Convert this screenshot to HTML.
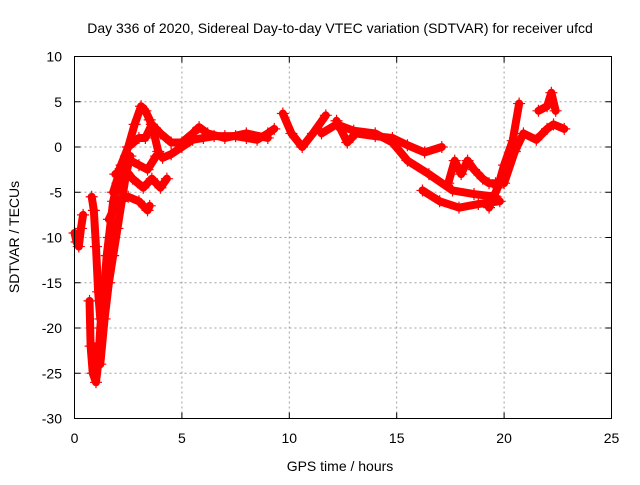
<!DOCTYPE html>
<html><head><meta charset="utf-8"><style>
body{margin:0;background:#fff}
svg text{font-family:"Liberation Sans",sans-serif;font-size:14px;fill:#000}
</style></head><body>
<svg id="c" width="640" height="480">
<text x="340" y="33" text-anchor="middle">Day 336 of 2020, Sidereal Day-to-day VTEC variation (SDTVAR) for receiver ufcd</text>
<text x="340" y="471" text-anchor="middle">GPS time / hours</text>
<text transform="translate(19,237) rotate(-90)" text-anchor="middle">SDTVAR / TECUs</text>
<g id="grid"></g>
<g id="marks"></g>
<rect x="74.5" y="56.5" width="537" height="362" fill="none" stroke="#000"/>
</svg>
<script>
const xTicks=[0,5,10,15,20,25];
const yTicks=[10,5,0,-5,-10,-15,-20,-25,-30];
const trackA_t=[0.7,0.75,0.85,1.0,1.1,1.2,1.3,1.4,1.5,1.6,1.7,1.8,2.0,2.2,2.4];
const trackA_v=[-17,-22,-25,-26,-24,-20,-17,-15,-12,-10,-8,-6,-4,-2,-1];
const trackA2_t=[0.9,1.0,1.2,1.4,1.6,1.8,2.0,2.2,2.4,2.6];
const trackA2_v=[-22,-23,-24,-19,-15,-12,-9,-6,-3,-1];
const trackB_t=[0.0,0.1,0.2,0.3,0.4];
const trackB_v=[-9.5,-10.5,-11,-9,-7.5];
const trackC_t=[0.8,0.9,1.0,1.1,1.2,1.3];
const trackC_v=[-5.5,-7,-11,-16,-19,-18];
const trackD_t=[2.0,2.5,2.8,3.1,3.3,3.5,3.7,3.9,4.1,4.5,5,5.5,6,6.5,7,7.5,8,8.5,9,9.3];
const trackD_v=[-3,0,2.5,4.5,4,3,1.5,-0.5,-1.2,-0.8,0,0.8,1,1.2,1.2,1.2,1,0.8,1.5,2];
const trackE_t=[2.5,3,3.3,3.6,4,4.5,5,5.5,5.8,6.2,7,8,9];
const trackE_v=[0,1,1,2.5,1.5,0.5,0.5,1.5,2.2,1.5,1,1.5,1];
const trackF_t=[1.8,2.2,2.7,3.2,3.6,4.0,4.3];
const trackF_v=[-5,-2,-3.5,-4.5,-3.5,-4.5,-3.5];
const trackG_t=[1.6,2.0,2.5,3.0,3.4,3.5];
const trackG_v=[-8,-6,-5.5,-6,-7,-6.5];
const trackP_t=[1.9,2.2,2.6,3.0,3.4,3.8];
const trackP_v=[-3,-2.5,-1.5,-2,-2.5,-1];
const trackH_t=[9.7,10.1,10.6,11.1,11.7];
const trackH_v=[3.7,1.5,0,1.5,3.5];
const trackI_t=[12.2,12.7,13.1,14.0,14.8,15.5,16.3,17.1];
const trackI_v=[2.9,0.5,1.5,1.2,1,0.2,-0.6,0];
const trackJ_t=[11.5,12.2,13,14,14.8,15.5,16.5,17.6,18.6,19.6];
const trackJ_v=[1.5,2.5,1.8,1.5,0.5,-1.5,-3,-4.8,-5.2,-5.5];
const trackK_t=[16.2,17.0,17.9,18.8,19.8];
const trackK_v=[-4.8,-6,-6.7,-6.3,-6];
const trackL_t=[17.4,17.7,18.0,18.3,18.6,19.0,19.3,19.6];
const trackL_v=[-4,-1.5,-3,-1.5,-2.5,-3.5,-4,-4];
const trackM_t=[19.3,19.7,20.0,20.4,20.7];
const trackM_v=[-6.7,-4.5,-2,0.7,4.8];
const trackN_t=[20.0,20.5,20.9,21.5,22.0,22.3,22.8];
const trackN_v=[-4,-0.5,1.5,0.8,2,2.5,2];
const trackO_t=[21.6,22.0,22.2,22.4];
const trackO_v=[4,4.5,6,4];
const tracks=[[trackA_t,trackA_v],[trackA2_t,trackA2_v],[trackB_t,trackB_v],[trackC_t,trackC_v],[trackD_t,trackD_v],[trackE_t,trackE_v],[trackF_t,trackF_v],[trackG_t,trackG_v],[trackP_t,trackP_v],[trackH_t,trackH_v],[trackI_t,trackI_v],[trackJ_t,trackJ_v],[trackK_t,trackK_v],[trackL_t,trackL_v],[trackM_t,trackM_v],[trackN_t,trackN_v],[trackO_t,trackO_v]];
const NS='http://www.w3.org/2000/svg';
const X0=74.5,X1=611.5,Y0=56.5,Y1=418.5;
function sx(t){return X0+(t-0)/(25-0)*(X1-X0);}
function sy(v){return Y0+(10-v)/(10-(-30))*(Y1-Y0);}
function mk(tag,attrs,parent){const e=document.createElementNS(NS,tag);for(const k in attrs)e.setAttribute(k,attrs[k]);parent.appendChild(e);return e;}
const grid=document.getElementById('grid'),svg=document.getElementById('c'),marks=document.getElementById('marks');
xTicks.forEach(t=>{
 const x=sx(t);
 if(t>0&&t<25){const g=mk('line',{x1:x,x2:x,y1:Y0,y2:Y1,stroke:'#a0a0a0','stroke-dasharray':'2,3'},grid);
 
 }
 mk('line',{x1:x,x2:x,y1:Y1,y2:Y1-6,stroke:'#000'},grid);mk('line',{x1:x,x2:x,y1:Y0,y2:Y0+6,stroke:'#000'},grid);
 const l=mk('text',{x:x,y:443,'text-anchor':'middle'},svg);l.textContent=t;
 
 
});
yTicks.forEach(v=>{
 const y=sy(v);
 if(v<10&&v>-30){const g=mk('line',{x1:X0,x2:X1,y1:y,y2:y,stroke:'#a0a0a0','stroke-dasharray':'2,3'},grid);
 
 }
 mk('line',{x1:X0,x2:X0+6,y1:y,y2:y,stroke:'#000'},grid);mk('line',{x1:X1,x2:X1-6,y1:y,y2:y,stroke:'#000'},grid);
 const l=mk('text',{x:62,y:y+5,'text-anchor':'end'},svg);l.textContent=v;
 
 
});
tracks.forEach(([ts,vs])=>{
 const pts=ts.map((t,i)=>sx(t)+','+sy(vs[i])).join(' ');
 const pl=mk('polyline',{points:pts,fill:'none',stroke:'#f00','stroke-width':8,'stroke-linejoin':'round','stroke-linecap':'round'},marks);
 
 
 ts.forEach((t,i)=>{
  const x=sx(t),y=sy(vs[i]);
  const p=mk('path',{d:`M${x-6},${y}H${x+6}M${x},${y-6}V${y+6}`,stroke:'#f00','stroke-width':1.2},marks);
  
  
 });
});
</script>
</body></html>
